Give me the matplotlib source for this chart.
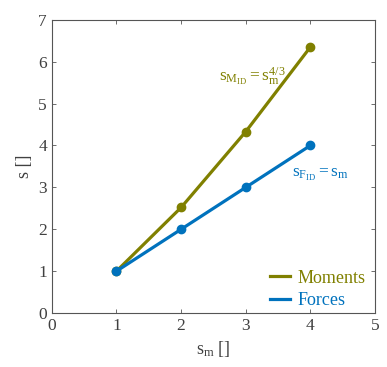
import matplotlib
matplotlib.use("Agg")
import matplotlib.pyplot as plt

plt.rcParams['font.family'] = ['Liberation Serif', 'DejaVu Serif']
plt.rcParams['mathtext.fontset'] = 'custom'
plt.rcParams['mathtext.rm'] = 'Liberation Serif'
plt.rcParams['mathtext.it'] = 'Liberation Serif'

s_m = [1, 2, 3, 4]
moments = [1.0, 2.52, 4.33, 6.35]
forces = [1.0, 2.0, 3.0, 4.0]

olive = '#808000'
blue = '#0072BD'
gray = '#404040'

fig = plt.figure(figsize=(3.87, 3.67), dpi=100)
ax = fig.add_axes([0.134, 0.147, 0.835, 0.799])

ax.plot(s_m, moments, '-o', color=olive, lw=2.3, ms=6, label='Moments')
ax.plot(s_m, forces, '-o', color=blue, lw=2.3, ms=6, label='Forces')

ax.set_xlim(0, 5)
ax.set_ylim(0, 7)
ax.set_xticks(range(0, 6))
ax.set_yticks(range(0, 8))
ax.tick_params(direction='in', length=3, width=0.6, colors='#555555',
               labelcolor=gray, labelsize=12.5, top=True, right=True)
for sp in ax.spines.values():
    sp.set_color('#555555')
    sp.set_linewidth(0.8)

ax.set_xlabel(r'$\mathrm{s_m}$ []', fontsize=13, color=gray)
ax.set_ylabel('s []', fontsize=13, color=gray)

ax.text(2.58, 5.55, r'$\mathrm{s_{M_{ID}} = s_m^{4/3}}$', color=olive, fontsize=12.5)
ax.text(3.72, 3.25, r'$\mathrm{s_{F_{ID}} = s_m}$', color=blue, fontsize=12.5)

leg = ax.legend(loc='lower right', bbox_to_anchor=(1.0, -0.02), frameon=False,
                fontsize=13, handlelength=1.1, handletextpad=0.4,
                labelspacing=0.3, borderaxespad=0.15)
for t, c in zip(leg.get_texts(), [olive, blue]):
    t.set_color(c)
for h in leg.legend_handles:
    h.set_marker('')

fig.savefig('out.png', dpi=100)
